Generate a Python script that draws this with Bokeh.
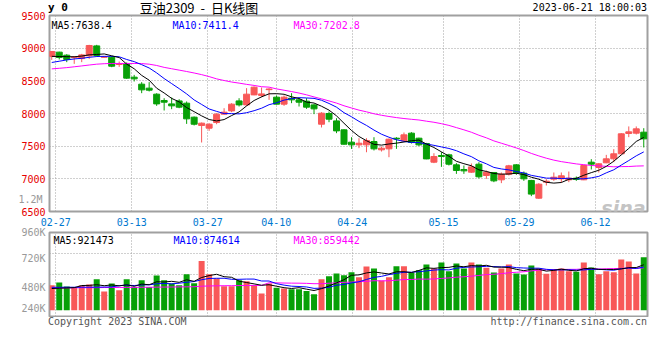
import numpy as np
import pandas as pd
from bokeh.plotting import figure
from bokeh.layouts import column
from bokeh.models import Range1d, FixedTicker, Label, ColumnDataSource, LinearAxis, Div
from bokeh.embed import file_html
from bokeh.resources import INLINE

# ---------------- data ----------------
dates = ["02-24", "02-27", "02-28",
         "03-01", "03-02", "03-03", "03-06", "03-07", "03-08", "03-09", "03-10",
         "03-13", "03-14", "03-15", "03-16", "03-17", "03-20", "03-21", "03-22",
         "03-23", "03-24", "03-27", "03-28", "03-29", "03-30", "03-31",
         "04-03", "04-04", "04-06", "04-07", "04-10", "04-11", "04-12", "04-13",
         "04-14", "04-17", "04-18", "04-19", "04-20", "04-21", "04-24", "04-25",
         "04-26", "04-27", "04-28",
         "05-04", "05-05", "05-08", "05-09", "05-10", "05-11", "05-12", "05-15",
         "05-16", "05-17", "05-18", "05-19", "05-22", "05-23", "05-24", "05-25",
         "05-26", "05-29", "05-30", "05-31",
         "06-01", "06-02", "06-05", "06-06", "06-07", "06-08", "06-09", "06-12",
         "06-13", "06-14", "06-15", "06-16", "06-19", "06-20", "06-21"]

opens = [8873, 8939, 8893, 8855, 8840, 8882, 9035, 8860, 8862, 8750,
         8760, 8556, 8449, 8388, 8296, 8199, 8147, 8193, 8158, 7944,
         7817, 7775, 7862, 7990, 8040, 8193, 8132, 8285, 8276, 8365,
         8250, 8143, 8234, 8209, 8189, 8132, 7836, 8000, 7887, 7750,
         7561, 7520, 7520, 7571, 7444, 7459, 7622, 7582, 7699, 7622,
         7541, 7255, 7357, 7367, 7214, 7143, 7102, 7224, 7051, 7097,
         6985, 7071, 7214, 7087, 6975, 6704, 6949, 6995, 7000, 6985,
         7010, 6985, 7255, 7173, 7245, 7306, 7383, 7694, 7699, 7714]
highs = [8955, 8945, 8908, 8880, 8913, 9051, 9051, 8880, 8877, 8796,
         8781, 8591, 8480, 8480, 8310, 8234, 8245, 8219, 8184, 7954,
         7862, 7852, 8005, 8081, 8158, 8234, 8388, 8414, 8398, 8388,
         8276, 8276, 8311, 8234, 8234, 8143, 8020, 8031, 7928, 7760,
         7637, 7622, 7622, 7637, 7495, 7615, 7637, 7709, 7714, 7630,
         7550, 7392, 7408, 7383, 7240, 7204, 7235, 7255, 7128, 7100,
         7097, 7214, 7224, 7112, 6985, 6934, 6995, 7097, 7097, 7112,
         7036, 7214, 7301, 7240, 7367, 7454, 7699, 7802, 7802, 7775]
lows = [8821, 8827, 8786, 8760, 8786, 8836, 8870, 8850, 8709, 8714,
        8530, 8490, 8311, 8337, 8117, 8046, 8066, 8081, 7841, 7817,
        7556, 7734, 7836, 7985, 8020, 8107, 8117, 8280, 8250, 8209,
        8140, 8117, 8158, 8107, 8071, 7990, 7786, 7867, 7699, 7525,
        7458, 7469, 7407, 7434, 7418, 7331, 7459, 7575, 7540, 7500,
        7300, 7240, 7183, 7204, 7076, 7076, 7092, 7006, 7000, 6949,
        6934, 7051, 7061, 6969, 6735, 6694, 6898, 6969, 6944, 6949,
        6969, 6980, 7143, 7097, 7240, 7255, 7380, 7638, 7679, 7480]
closes = [8949, 8858, 8827, 8865, 8897, 9041, 8888, 8868, 8724, 8760,
          8541, 8530, 8362, 8357, 8147, 8173, 8117, 8097, 7918, 7836,
          7852, 7836, 7990, 8020, 8143, 8132, 8296, 8403, 8300, 8375,
          8143, 8250, 8209, 8173, 8097, 8071, 8005, 7913, 7734, 7530,
          7520, 7545, 7587, 7459, 7469, 7607, 7610, 7673, 7556, 7520,
          7305, 7342, 7342, 7224, 7128, 7122, 7183, 7031, 7102, 6969,
          7071, 7199, 7087, 7000, 6766, 6918, 6964, 7025, 7046, 7010,
          6990, 7204, 7224, 7230, 7306, 7383, 7689, 7719, 7765, 7612]
volumes_k = [506, 561, 479, 458, 500, 520, 628, 378, 540, 403,
             628, 473, 607, 473, 703, 607, 540, 506, 730, 546,
             995, 730, 642, 485, 485, 607, 588, 506, 342, 540,
             458, 439, 424, 424, 391, 322, 628, 689, 744, 710,
             771, 669, 886, 846, 601, 669, 893, 893, 764, 811,
             928, 846, 968, 791, 949, 846, 968, 928, 861, 764,
             846, 928, 744, 724, 907, 846, 739, 825, 846, 791,
             779, 968, 867, 730, 791, 771, 1029, 989, 744, 1071]

# moving-average values before a full window exists
ma5_head = [8875, 8872, 8870, 8868]
ma10_head = [8781, 8800, 8820, 8835, 8845, 8860, 8872, 8875, 8875]
ma30_head = [8683, 8692, 8702, 8715, 8728, 8742, 8755, 8762, 8766, 8766,
             8766, 8766, 8764, 8755, 8735, 8706, 8685, 8664, 8643, 8620,
             8595, 8565, 8530, 8505, 8482, 8465, 8446, 8430, 8410]
vol_ma5_head = [440, 446, 452, 458]
vol_ma10_head = [465, 465, 466, 466, 467, 467, 468, 470, 472]
vol_ma30_head = [452, 452, 453, 455, 456, 456, 458, 460, 461, 461,
                 463, 464, 466, 466, 468, 470, 471, 473, 474, 476,
                 487, 492, 495, 497, 498, 500, 502, 503, 504]

price_ticks = [6500, 7000, 7500, 8000, 8500, 9000, 9500]
tick_dates = ["02-27", "03-13", "03-27", "04-10", "04-24", "05-15", "05-29", "06-12"]
vol_tick_labels = ["960K", "720K", "480K", "240K"]
header_texts = ["y 0", "豆油2309 - 日K线图", "2023-06-21 18:00:03"]
price_ma_texts = ["MA5:7638.4", "MA10:7411.4", "MA30:7202.8"]
vol_ma_texts = ["MA5:921473", "MA10:874614", "MA30:859442"]
vol_top_text = "1.2M"
footer_texts = ["Copyright 2023 SINA.COM", "http://finance.sina.com.cn"]
watermark = "sina"

# ---------------- styles ----------------
RED = "#f85858"
GREEN = "#07a007"
MA_COLORS = ["#000000", "#0000ff", "#ff00ff"]
GRID = "#a0a0a0"
BORDER = "#a0a0a0"
MONO = "DejaVu Sans Mono"
W = 655


def moving_avg(values, n, head):
    out = pd.Series(values, dtype=float).rolling(n).mean().to_numpy()
    out[:len(head)] = head
    return out


x = np.arange(len(dates))
o = np.array(opens, float)
c = np.array(closes, float)
vol = np.array(volumes_k, float) * 1000
up = c >= o
src = ColumnDataSource(dict(
    x=x, high=highs, low=lows,
    top=np.maximum(o, c), bottom=np.minimum(o, c),
    color=np.where(up, RED, GREEN).tolist(),
    vol=vol,
    ma5=moving_avg(closes, 5, ma5_head),
    ma10=moving_avg(closes, 10, ma10_head),
    ma30=moving_avg(closes, 30, ma30_head),
    vma5=moving_avg(vol, 5, np.array(vol_ma5_head) * 1000),
    vma10=moving_avg(vol, 10, np.array(vol_ma10_head) * 1000),
    vma30=moving_avg(vol, 30, np.array(vol_ma30_head) * 1000),
))

# vertical grid positions (sina draws them at the left edge of the date's bar, with a slight drift)
tick_idx = [dates.index(d) for d in tick_dates]
grid_x = [round(k - 0.46 + 0.0143 * (k - 1), 4) for k in tick_idx]

X_RANGE = (-0.3, 79.5)
FRAME_L = 51

# ---------------- header (html) ----------------
HEAD_H = 20
header = Div(width=W, height=HEAD_H, margin=(0, 0, 0, 0),
             styles={"position": "relative", "z-index": "5", "overflow": "visible"}, text=(
    f'<div style="position:relative;width:{W}px;height:{HEAD_H}px;color:#000;white-space:nowrap">'
    f'<span style="position:absolute;left:50px;top:3px;font:bold 11px \'DejaVu Sans Mono\';'
    f'line-height:normal">{header_texts[0]}</span>'
    f'<span style="position:absolute;left:201px;top:0px;transform:translateX(-50%);'
    f'font:13px \'Noto Sans CJK SC\';line-height:normal;word-spacing:3px">{header_texts[1]}</span>'
    f'<span style="position:absolute;right:{W - 649}px;top:4px;font:10px \'DejaVu Sans Mono\';'
    f'line-height:normal">{header_texts[2]}</span>'
    '</div>'))

# ---------------- price panel ----------------
P_OVER, P_TOP, P_H, P_BOT = 14, 11, 196, 19
p = figure(width=W, height=P_TOP + P_H + P_BOT, x_range=Range1d(*X_RANGE),
           y_range=Range1d(6500, 9500),
           output_backend="svg", toolbar_location=None, margin=(-P_OVER, 0, 0, 0),
           min_border_left=FRAME_L, min_border_right=W - FRAME_L - 598, min_border_top=P_TOP,
           min_border_bottom=P_BOT)
p.outline_line_color = BORDER
p.outline_line_width = 2
p.background_fill_color = "white"
p.border_fill_color = None

p.segment(x0="x", y0="low", x1="x", y1="high", line_color="color", line_width=1, source=src)
p.vbar(x="x", width=0.8, top="top", bottom="bottom", fill_color="color", line_color="color",
       line_width=1, source=src)
p.line("x", "ma30", line_color=MA_COLORS[2], line_width=1, source=src)
p.line("x", "ma10", line_color=MA_COLORS[1], line_width=1, source=src)
p.line("x", "ma5", line_color=MA_COLORS[0], line_width=1, source=src)

p.yaxis.ticker = FixedTicker(ticks=price_ticks)
p.xaxis.ticker = FixedTicker(ticks=grid_x)
p.xaxis.major_label_overrides = {gx: d for gx, d in zip(grid_x, tick_dates)}
for ax in (p.xaxis[0], p.yaxis[0]):
    ax.axis_line_color = None
    ax.major_tick_line_color = None
    ax.minor_tick_line_color = None
    ax.major_tick_out = 0
    ax.major_tick_in = 0
    ax.major_label_text_font = MONO
    ax.major_label_text_font_size = "10px"
p.yaxis.major_label_text_color = "#e60000"
p.yaxis.major_label_standoff = 4
p.xaxis.major_label_text_color = "#0078d0"
p.xaxis.major_label_standoff = 6
for g in (p.xgrid[0], p.ygrid[0]):
    g.grid_line_color = GRID
    g.grid_line_dash = "1 2"
    g.grid_line_width = 1

# the grey "1.2M" that sina prints just above the price axis' 6500 label
one_m_pos = 6687
one_m = LinearAxis(ticker=FixedTicker(ticks=[one_m_pos]),
                   major_label_overrides={one_m_pos: vol_top_text},
                   axis_line_color=None, major_tick_line_color=None, minor_tick_line_color=None,
                   major_tick_out=0, major_tick_in=0, major_label_standoff=-24,
                   major_label_text_font=MONO, major_label_text_font_size="10px",
                   major_label_text_color="#999999")
p.add_layout(one_m, "left")

P_FRAME_BOTTOM = HEAD_H - P_OVER + P_TOP + P_H  # page y of price frame bottom


def plabel(fig, frame_bottom, text, px, py, color, size="10px", align="left",
           baseline="alphabetic", font=MONO, style="normal"):
    fig.add_layout(Label(x=px - FRAME_L, y=frame_bottom - py, x_units="screen", y_units="screen",
                         text=text, text_color=color, text_font_size=size, text_align=align,
                         text_baseline=baseline, text_font=font, text_font_style=style))


for t, px, col in zip(price_ma_texts, [53, 174, 295], MA_COLORS):
    plabel(p, P_FRAME_BOTTOM, t, px, 26.7, col)
plabel(p, P_FRAME_BOTTOM, watermark, 647, 209, "#c4c4c4", size="19px", align="right",
       font="DejaVu Sans", style="bold italic")

# ---------------- volume panel ----------------
V_OVER, V_TOP, V_H, V_BOT = 5, 7, 84, 1
VOL_RANGE = (-126000, 1574000)
v = figure(width=W, height=V_TOP + V_H + V_BOT, x_range=p.x_range, y_range=Range1d(*VOL_RANGE),
           output_backend="svg", toolbar_location=None, margin=(-V_OVER, 0, 0, 0),
           min_border_left=FRAME_L, min_border_right=W - FRAME_L - 598, min_border_top=V_TOP,
           min_border_bottom=V_BOT)
v.outline_line_color = BORDER
v.outline_line_width = 2
v.border_fill_color = None

v.vbar(x="x", width=0.8, top="vol", bottom=0, fill_color="color", line_color=None, source=src)
v.line("x", "vma30", line_color=MA_COLORS[2], line_width=1, source=src)
v.line("x", "vma10", line_color=MA_COLORS[1], line_width=1, source=src)
v.line("x", "vma5", line_color=MA_COLORS[0], line_width=1, source=src)

vol_label_pos = [1570000, 1050000, 452000, 37000]
v.yaxis.ticker = FixedTicker(ticks=vol_label_pos)
v.yaxis.major_label_overrides = {pos: t for pos, t in zip(vol_label_pos, vol_tick_labels)}
v.yaxis.axis_line_color = None
v.yaxis.major_tick_line_color = None
v.yaxis.minor_tick_line_color = None
v.yaxis.major_tick_out = 0
v.yaxis.major_label_text_font = MONO
v.yaxis.major_label_text_font_size = "10px"
v.yaxis.major_label_text_color = "#999999"
v.yaxis.major_label_standoff = 4
span = VOL_RANGE[1] - VOL_RANGE[0]
v.ygrid.ticker = FixedTicker(ticks=[VOL_RANGE[0] + span * q for q in (0.25, 0.5, 0.75)])

v.xaxis.visible = False
v.xgrid.ticker = FixedTicker(ticks=grid_x)
for g in (v.xgrid[0], v.ygrid[0]):
    g.grid_line_color = GRID
    g.grid_line_dash = "1 2"
    g.grid_line_width = 1

V_FRAME_BOTTOM = P_FRAME_BOTTOM + P_BOT - V_OVER + V_TOP + V_H
for t, px, col in zip(vol_ma_texts, [55, 175, 295], MA_COLORS):
    plabel(v, V_FRAME_BOTTOM, t, px, 241.7, col)

# ---------------- footer (html) ----------------
footer = Div(width=W, height=16, margin=(0, 0, 0, 0), text=(
    f'<div style="position:relative;width:{W}px;height:16px;color:#555;white-space:nowrap;'
    f'font:10px \'DejaVu Sans Mono\';line-height:10px">'
    f'<span style="position:absolute;left:50px;top:0px">{footer_texts[0]}</span>'
    f'<span style="position:absolute;right:{W - 649}px;top:0px">{footer_texts[1]}</span>'
    '</div>'))

layout = column(header, p, v, footer, margin=(-2, 0, 0, -2))
open("out.html", "w").write(file_html(layout, INLINE))
